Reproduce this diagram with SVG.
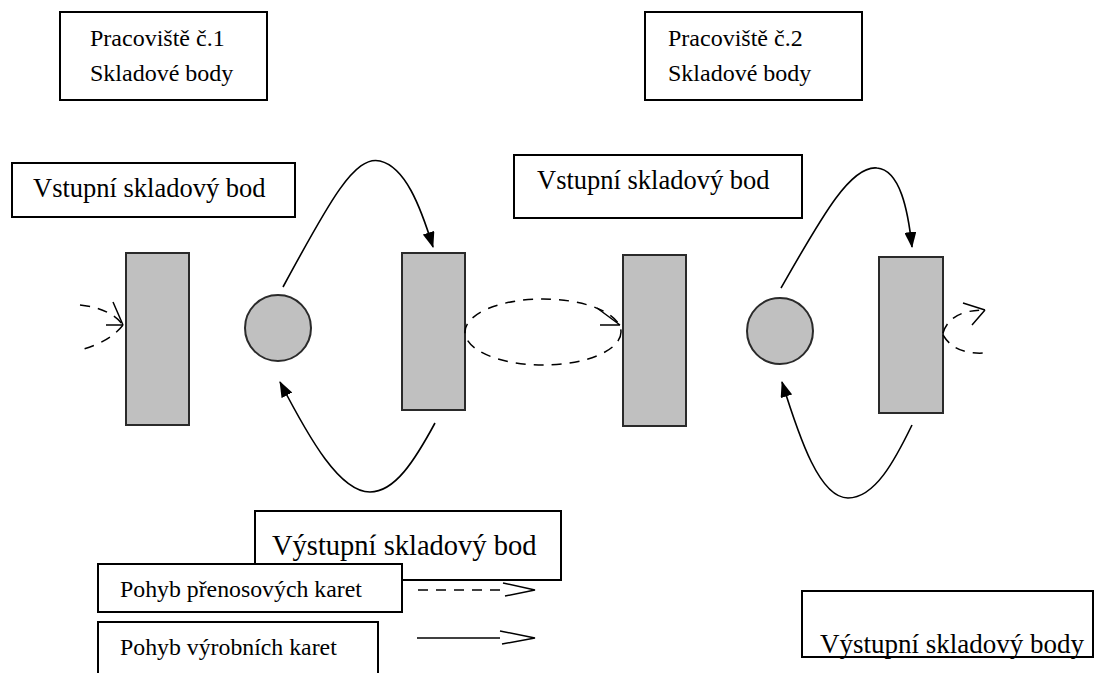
<svg xmlns="http://www.w3.org/2000/svg" width="1094" height="673" viewBox="0 0 1094 673">
<style>
.box{fill:#fff;stroke:#000;stroke-width:2}
.t{fill:#000}
.st{fill:#c0c0c0;stroke:#2a2a2a;stroke-width:2}
.c{fill:none;stroke:#000;stroke-width:1.6}
.d{fill:none;stroke:#000;stroke-width:1.5;stroke-dasharray:10 8}
.o{fill:none;stroke:#000;stroke-width:1.5}
</style>
<defs>
<marker id="ah" viewBox="0 0 16 12" refX="15" refY="6" markerWidth="16" markerHeight="12" markerUnits="userSpaceOnUse" orient="auto">
<path d="M0,0 L16,6 L0,12 Z" fill="#000"/>
</marker>
</defs>
<g font-family="'Liberation Serif', 'Times New Roman', 'DejaVu Serif', serif">
<g id="ws1"><rect class="box" x="60" y="12" width="207" height="88"/><text class="t" x="90" y="46" font-size="24">Pracoviště č.1</text><text class="t" x="90" y="81" font-size="24">Skladové body</text></g>
<g id="ws2"><rect class="box" x="645" y="12" width="217" height="88"/><text class="t" x="668" y="46" font-size="24">Pracoviště č.2</text><text class="t" x="668" y="81" font-size="24">Skladové body</text></g>
<g id="in1"><rect class="box" x="12" y="163" width="283" height="54"/><text class="t" x="33" y="197" font-size="26.5">Vstupní skladový bod</text></g>
<g id="in2"><rect class="box" x="514" y="155" width="288" height="63"/><text class="t" x="537" y="189" font-size="26.5">Vstupní skladový bod</text></g>
<g id="out1"><rect class="box" x="255" y="511" width="306" height="69"/><text class="t" x="272" y="555" font-size="28.5">Výstupní skladový bod</text></g>
<g id="out2"><rect class="box" x="802" y="591" width="291" height="66"/><text class="t" x="820" y="653" font-size="27">Výstupní skladový body</text></g>
<g id="leg1"><rect class="box" x="98" y="564" width="304" height="48"/><text class="t" x="120" y="597" font-size="23.8">Pohyb přenosových karet</text></g>
<g id="leg2"><rect class="box" x="98" y="622" width="280" height="60"/><text class="t" x="120" y="655" font-size="23.8">Pohyb výrobních karet</text></g>
</g>
<g id="r1"><rect class="st" x="126" y="253" width="63" height="172"/></g>
<g id="c1"><circle class="st" cx="278" cy="328" r="33"/></g>
<g id="r2"><rect class="st" x="402" y="253" width="63" height="157"/></g>
<g id="r3"><rect class="st" x="623" y="255" width="63" height="171"/></g>
<g id="c2"><circle class="st" cx="780" cy="331" r="33"/></g>
<g id="r4"><rect class="st" x="879" y="257" width="64" height="156"/></g>
<g id="connectors">
<path class="c" d="M283,287 C330,200 355,155 380,161 C405,167 420,205 433,247" marker-end="url(#ah)"/>
<path class="c" d="M435,423 C415,460 395,492 370,492 C340,492 310,440 280,382" marker-end="url(#ah)"/>
<path class="c" d="M781,288 C820,220 850,165 877,168 C900,170 908,210 912,247" marker-end="url(#ah)"/>
<path class="c" d="M912,425 C895,460 875,498 848,498 C820,498 800,440 782,382" marker-end="url(#ah)"/>
<ellipse class="d" cx="543" cy="332" rx="78" ry="33"/>
<path class="o" d="M597,308 L620,325 M600,325 L620,325"/>
<path class="d" d="M80,305 Q110,308 123,325"/>
<path class="d" d="M123,325 Q110,342 80,350"/>
<path class="o" d="M113,302 L123,325 M106,325 L123,325"/>
<path class="d" d="M943,333 Q950,310 985,310"/>
<path class="d" d="M943,335 Q955,355 985,353"/>
<path class="o" d="M963,303 L985,310 M972,325 L985,310"/>
<path class="d" d="M418,590 L503,590" stroke-dasharray="9 7"/>
<polyline class="o" points="503,583 535,590 505,596"/>
<path class="o" d="M417,638 L500,638"/>
<polyline class="o" points="500,631 535,638 502,644"/>
</g>
</svg>
